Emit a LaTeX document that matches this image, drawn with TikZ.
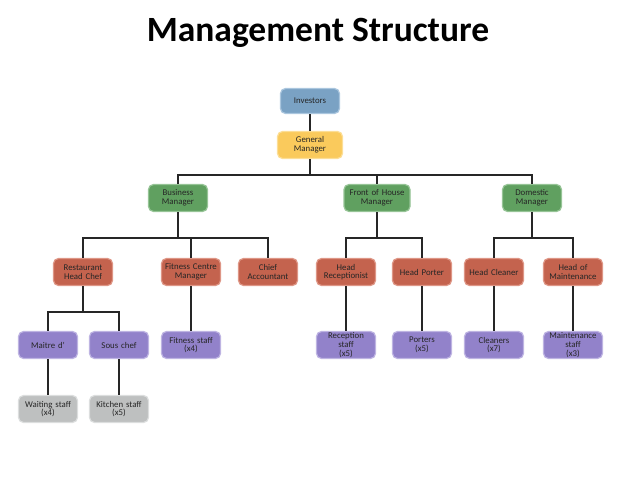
\documentclass[tikz,border=0pt]{standalone}
\usepackage{fontspec}
\setmainfont{Carlito}
\begin{document}
\begin{tikzpicture}[x=1pt,y=-1pt,
  box/.style={rounded corners=5pt, line width=1.2pt, minimum width=59pt, minimum height=27pt,
    inner sep=1pt, align=center, text width=57pt, text=black!85,
    font=\fontsize{8.8}{8.6}\selectfont},
  inv/.style={box, fill={rgb,255:red,122;green,162;blue,196}, draw={rgb,255:red,170;green,198;blue,222}},
  gm/.style={box, fill={rgb,255:red,250;green,202;blue,92}, draw={rgb,255:red,252;green,222;blue,150}},
  mgr/.style={box, fill={rgb,255:red,96;green,160;blue,96}, draw={rgb,255:red,150;green,196;blue,150}},
  head/.style={box, fill={rgb,255:red,196;green,99;blue,78}, draw={rgb,255:red,222;green,150;blue,134}},
  staff/.style={box, fill={rgb,255:red,146;green,130;blue,202}, draw={rgb,255:red,190;green,180;blue,226}},
  grey/.style={box, fill={rgb,255:red,190;green,192;blue,192}, draw={rgb,255:red,220;green,222;blue,222}},
  conn/.style={draw=black!85, line width=1.5pt}]
\useasboundingbox (0,0) rectangle (638,479);
\node[font=\fontsize{35.5}{35.5}\selectfont\bfseries] (title) at (318,33) {Management Structure};
% level 0-1
\node[inv, minimum width=55pt, minimum height=25pt] (inv) at (310,101) {Investors};
\node[gm, minimum width=65pt] (gm) at (310,145) {General\\Manager};
% level 2
\node[mgr] (bm) at (178,198) {Business\\Manager};
\node[mgr, minimum width=66pt, text width=64pt] (fm) at (377,198) {Front of House\\Manager};
\node[mgr] (dm) at (532,198) {Domestic\\Manager};
% level 3
\node[head] (rc) at (83,272) {Restaurant\\Head Chef};
\node[head] (fc) at (191,272) {Fitness Centre\\Manager};
\node[head] (ca) at (268,272) {Chief\\Accountant};
\node[head] (hr) at (346,272) {Head\\Receptionist};
\node[head] (hp) at (422,272) {Head Porter};
\node[head] (hc) at (494,272) {Head Cleaner};
\node[head] (hm) at (573,272) {Head of\\Maintenance};
% level 4
\node[staff] (md) at (48,345) {Maitre d'};
\node[staff] (sc) at (119,345) {Sous chef};
\node[staff] (fs) at (191,345) {Fitness staff\\(x4)};
\node[staff] (rs) at (346,345) {Reception\\staff\\(x5)};
\node[staff] (po) at (422,345) {Porters\\(x5)};
\node[staff] (cl) at (494,345) {Cleaners\\(x7)};
\node[staff] (ms) at (573,345) {Maintenance\\staff\\(x3)};
% level 5
\node[grey] (ws) at (48,409) {Waiting staff\\(x4)};
\node[grey] (ks) at (119,409) {Kitchen staff\\(x5)};
% bus coordinates
\coordinate (b1) at (310,175);
\coordinate (b2) at (178,238);
\coordinate (b3) at (377,238);
\coordinate (b4) at (532,238);
\coordinate (b5) at (83,312);
% connectors
\draw[conn] (inv) -- (gm);
\draw[conn] (gm.south) -- (b1);
\draw[conn] (bm.north) |- (b1) -| (dm.north);
\draw[conn] (fm.north) -- (fm.north |- b1);
\draw[conn] (bm.south) -- (b2);
\draw[conn] (rc.north) |- (b2) -| (ca.north);
\draw[conn] (fc.north) -- (fc.north |- b2);
\draw[conn] (fm.south) -- (b3);
\draw[conn] (hr.north) |- (b3) -| (hp.north);
\draw[conn] (dm.south) -- (b4);
\draw[conn] (hc.north) |- (b4) -| (hm.north);
\draw[conn] (rc.south) -- (b5);
\draw[conn] (md.north) |- (b5) -| (sc.north);
\draw[conn] (fc) -- (fs);
\draw[conn] (hr) -- (rs);
\draw[conn] (hp) -- (po);
\draw[conn] (hc) -- (cl);
\draw[conn] (hm) -- (ms);
\draw[conn] (md) -- (ws);
\draw[conn] (sc) -- (ks);
\end{tikzpicture}
\end{document}
